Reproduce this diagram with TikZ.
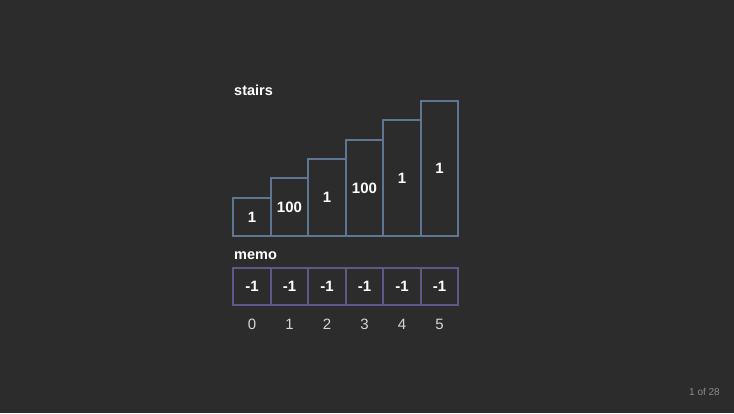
\documentclass[tikz,border=0pt]{standalone}
\usepackage{fontspec}
\setmainfont{Liberation Sans}
\definecolor{bg}{HTML}{2C2C2C}
\definecolor{stairline}{HTML}{5E7691}
\definecolor{memoline}{HTML}{5D5887}
\definecolor{idxgray}{HTML}{D6D6D6}
\definecolor{pagegray}{HTML}{8C8C8C}

\begin{document}
\begin{tikzpicture}[x=1pt, y=-1pt,
    bar/.style={draw=stairline, line width=1.8pt, inner sep=0pt, outer sep=0pt,
      anchor=south west, text=white,
      font=\bfseries\fontsize{15}{15}\selectfont},
    cell/.style={draw=memoline, line width=1.7pt, inner sep=0pt, outer sep=0pt,
      minimum height=37pt, anchor=north west, text=white,
      font=\bfseries\fontsize{15}{15}\selectfont},
    title/.style={anchor=base west, inner sep=0pt, text=white,
      font=\bfseries\fontsize{14.5}{15}\selectfont},
    idx/.style={anchor=base, text=idxgray, font=\fontsize{15}{15}\selectfont}]
    \fill[bg] (0, 0) rectangle (734, 413);
    \useasboundingbox (0, 0) rectangle (734, 413);

    % stairs
    \node[title] (stairstitle) at (234, 95.5) {stairs};
    \foreach \x/\w/\h/\lbl [count=\i from 0] in
        {233/38/38/1, 271/37/58/100, 308/38/77/1, 346/37/96/100, 383/38/116/1, 421/37/135/1}
      \node[bar, minimum width=\w pt, minimum height=\h pt] (s\i) at (\x, 236) {\lbl};

    % memo
    \node[title] (memotitle) at (234, 259.5) {memo};
    \foreach \x/\w [count=\i from 0] in {233/38, 271/37, 308/38, 346/37, 383/38, 421/37} {
      \node[cell, minimum width=\w pt] (m\i) at (\x, 268) {-1};
      \node[idx] (i\i) at (m\i.center |- 0, 329.5) {\i};
    }

    \node[anchor=base east, inner sep=0pt, text=pagegray, font=\fontsize{10}{10}\selectfont] (page) at (720, 395.5) {1 of 28};
\end{tikzpicture}
\end{document}
